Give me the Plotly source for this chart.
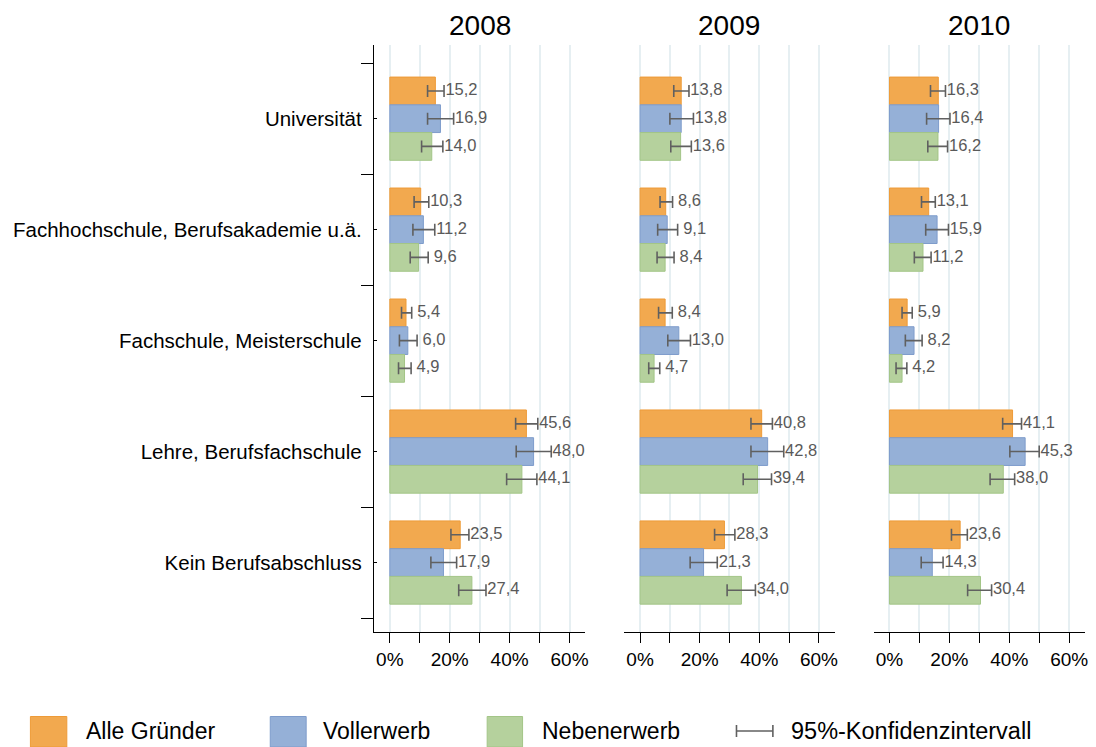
import plotly.graph_objects as go

categories = [
    "Universität",
    "Fachhochschule, Berufsakademie u.ä.",
    "Fachschule, Meisterschule",
    "Lehre, Berufsfachschule",
    "Kein Berufsabschluss",
]
years = ["2008", "2009", "2010"]
series_names = ["Alle Gründer", "Vollerwerb", "Nebenerwerb"]

# share in %, one list per year
alle_gruender = [
    [15.2, 10.3, 5.4, 45.6, 23.5],
    [13.8, 8.6, 8.4, 40.8, 28.3],
    [16.3, 13.1, 5.9, 41.1, 23.6],
]
vollerwerb = [
    [16.9, 11.2, 6.0, 48.0, 17.9],
    [13.8, 9.1, 13.0, 42.8, 21.3],
    [16.4, 15.9, 8.2, 45.3, 14.3],
]
nebenerwerb = [
    [14.0, 9.6, 4.9, 44.1, 27.4],
    [13.6, 8.4, 4.7, 39.4, 34.0],
    [16.2, 11.2, 4.2, 38.0, 30.4],
]

# 95% confidence interval, lower / upper bounds
alle_lo = [
    [12.6, 8.1, 3.9, 42.0, 20.4],
    [11.3, 6.7, 6.2, 37.2, 25.0],
    [13.7, 10.7, 4.2, 37.8, 20.7],
]
alle_hi = [
    [18.1, 13.0, 7.3, 49.4, 26.4],
    [16.4, 10.9, 10.8, 44.4, 31.8],
    [18.7, 15.3, 7.6, 44.1, 26.0],
]
voll_lo = [
    [12.6, 7.7, 3.2, 42.2, 13.7],
    [10.0, 5.9, 9.3, 37.2, 16.8],
    [12.4, 12.1, 5.3, 40.2, 10.6],
]
voll_hi = [
    [21.3, 15.0, 9.1, 53.9, 22.3],
    [17.9, 12.6, 16.9, 48.2, 25.9],
    [20.2, 19.7, 10.9, 50.0, 17.9],
]
neben_lo = [
    [10.6, 6.8, 2.9, 39.0, 23.0],
    [10.3, 5.7, 2.9, 34.6, 29.2],
    [12.8, 8.3, 2.2, 33.6, 26.1],
]
neben_hi = [
    [17.7, 12.8, 7.1, 49.1, 32.1],
    [17.2, 11.4, 6.6, 44.1, 38.7],
    [19.4, 13.9, 5.8, 41.8, 34.1],
]

fills = ["#F2A94F", "#95B0D7", "#B5D19D"]
borders = ["#EE9B38", "#7E9CCB", "#A3C587"]
err_color = "#606060"
font = "Liberation Sans, Arial, sans-serif"

W, H = 1096, 747
x_domains = [(375, 587), (626, 837), (876, 1088)]
y_domain = [(H - 632) / H, (H - 45) / H]

values = [alle_gruender, vollerwerb, nebenerwerb]
lows = [alle_lo, voll_lo, neben_lo]
highs = [alle_hi, voll_hi, neben_hi]
offsets = [-0.25, 0, 0.25]
pos = list(range(len(categories)))


def label(a):
    s = f"{a:.1f}".replace(".", ",")
    # single digit values get a leading space, as in the original
    return ("\u2004" + s) if a < 10 else ("\u200a" + s)


fig = go.Figure()

for p in range(3):
    xa = "x" if p == 0 else f"x{p + 1}"
    ya = "y" if p == 0 else f"y{p + 1}"
    for s in range(3):
        v = values[s][p]
        lo = lows[s][p]
        hi = highs[s][p]
        fig.add_trace(
            go.Bar(
                x=v,
                y=pos,
                orientation="h",
                name=series_names[s],
                marker=dict(color=fills[s], line=dict(color=borders[s], width=1)),
                error_x=dict(
                    type="data",
                    symmetric=False,
                    array=[h - a for h, a in zip(hi, v)],
                    arrayminus=[a - l for a, l in zip(v, lo)],
                    color=err_color,
                    thickness=1.6,
                    width=6,
                ),
                xaxis=xa,
                yaxis=ya,
                showlegend=False,
                hoverinfo="skip",
            )
        )
        fig.add_trace(
            go.Scatter(
                x=hi,
                y=[i + offsets[s] for i in pos],
                mode="text",
                text=[label(a) for a in v],
                textposition="middle right",
                textfont=dict(family=font, size=16.5, color="#595959"),
                xaxis=xa,
                yaxis=ya,
                showlegend=False,
                hoverinfo="skip",
            )
        )

layout = dict(
    width=W,
    height=H,
    margin=dict(l=0, r=0, t=0, b=0),
    paper_bgcolor="white",
    plot_bgcolor="white",
    barmode="group",
    bargap=0.25,
    bargroupgap=0,
    showlegend=False,
    font=dict(family=font, color="black"),
)

for p in range(3):
    xk = "xaxis" if p == 0 else f"xaxis{p + 1}"
    yk = "yaxis" if p == 0 else f"yaxis{p + 1}"
    x0, x1 = x_domains[p]
    layout[xk] = dict(
        domain=[x0 / W, x1 / W],
        anchor="y" if p == 0 else f"y{p + 1}",
        range=[-5.3, 65.3],
        tickmode="array",
        tickvals=[0, 10, 20, 30, 40, 50, 60],
        ticktext=["0%", "", "20%", "", "40%", "", "60%"],
        tickfont=dict(size=19, color="black"),
        showgrid=True,
        gridcolor="#E6EFF2",
        gridwidth=2,
        zeroline=False,
        showline=True,
        linecolor="black",
        linewidth=1.3,
        ticks="outside",
        ticklen=10,
        tickwidth=1.3,
        tickcolor="black",
        fixedrange=True,
    )
    ydict = dict(
        domain=y_domain,
        anchor="x" if p == 0 else f"x{p + 1}",
        range=[4.626, -0.664],
        tickmode="array",
        tickvals=pos,
        ticktext=categories if p == 0 else [""] * len(categories),
        tickfont=dict(size=20.5, color="black"),
        showgrid=False,
        zeroline=False,
        fixedrange=True,
    )
    if p == 0:
        ydict.update(
            showline=True,
            linecolor="black",
            linewidth=1.3,
            ticks="inside",
            ticklen=3,
            tickwidth=1.3,
            tickcolor="black",
            ticklabelstandoff=7,
            minor=dict(
                tickmode="linear",
                tick0=-0.5,
                dtick=1,
                ticks="outside",
                ticklen=12,
                tickwidth=1.3,
                tickcolor="black",
                showgrid=False,
            ),
        )
    else:
        ydict.update(showline=False, ticks="", showticklabels=False)
    layout[yk] = ydict

fig.update_layout(**layout)

# panel titles
for p, yr in enumerate(years):
    x0, x1 = x_domains[p]
    fig.add_annotation(
        x=(x0 + x1) / 2 / W,
        y=(H - 26) / H,
        xref="paper",
        yref="paper",
        text=yr,
        showarrow=False,
        font=dict(family=font, size=28, color="black"),
        xanchor="center",
        yanchor="middle",
    )

# legend drawn by hand
leg_y0, leg_y1, leg_mid = 716.5, 747, 731
boxes = [(30.5, 67), (271, 307), (488.5, 524)]
text_x = [84, 322, 541]
for s in range(3):
    bx0, bx1 = boxes[s]
    fig.add_shape(
        type="rect",
        xref="paper",
        yref="paper",
        x0=bx0 / W,
        x1=bx1 / W,
        y0=(H - leg_y1) / H,
        y1=(H - leg_y0) / H,
        fillcolor=fills[s],
        line=dict(color=borders[s], width=1),
    )
    fig.add_annotation(
        x=text_x[s] / W,
        y=(H - leg_mid) / H,
        xref="paper",
        yref="paper",
        text=series_names[s],
        showarrow=False,
        font=dict(family=font, size=23, color="black"),
        xanchor="left",
        yanchor="middle",
    )

ci_x0, ci_x1 = 738.5, 775
fig.add_shape(
    type="line", xref="paper", yref="paper",
    x0=ci_x0 / W, x1=ci_x1 / W, y0=(H - leg_mid) / H, y1=(H - leg_mid) / H,
    line=dict(color=err_color, width=1.6),
)
for cx in (ci_x0, ci_x1):
    fig.add_shape(
        type="line", xref="paper", yref="paper",
        x0=cx / W, x1=cx / W, y0=(H - leg_mid - 6) / H, y1=(H - leg_mid + 6) / H,
        line=dict(color=err_color, width=1.6),
    )
fig.add_annotation(
    x=791 / W,
    y=(H - leg_mid) / H,
    xref="paper",
    yref="paper",
    text="95%-Konfidenzintervall",
    showarrow=False,
    font=dict(family=font, size=23.5, color="black"),
    xanchor="left",
    yanchor="middle",
)

# the page body has a default 8px margin; remove it so the figure sits at 0,0
fig.write_html(
    "out.html",
    config={"displayModeBar": False},
    post_script="document.body.style.margin='0';document.body.style.overflow='hidden';",
)
